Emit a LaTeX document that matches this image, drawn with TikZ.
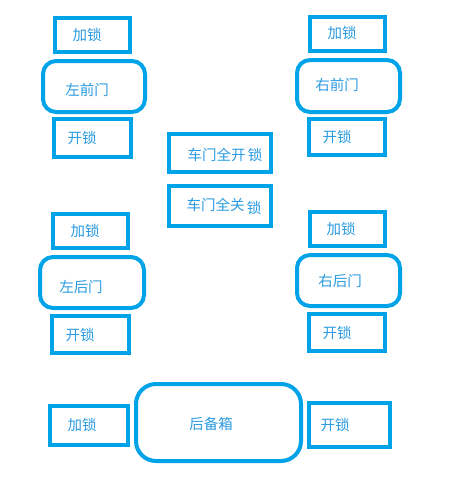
\documentclass[tikz,border=0pt]{standalone}
\usepackage{fontspec}
\newfontfamily\cjk{Noto Sans CJK SC}
\definecolor{bl}{HTML}{00A2E8}
\definecolor{tx}{HTML}{2A9BE0}
\begin{document}
\begin{tikzpicture}[x=1pt,y=-1pt,
  sq/.style={draw=bl,line width=4pt,inner sep=0pt,outer sep=0pt},
  rd/.style={draw=bl,line width=4pt,inner sep=0pt,outer sep=0pt,rounded corners=13pt},
  txt/.style={text=tx,font=\cjk\fontsize{14.5}{16}\selectfont,inner sep=0pt}]
\useasboundingbox[fill=white] (0,0) rectangle (455,493);
% left front
\node[sq,minimum width=75pt,minimum height=34pt] (l1lock) at (92.5,35) {};
\node[txt] (l1lockt) at (87,35) {加锁};
\node[rd,minimum width=102pt,minimum height=51pt] (l1door) at (94,86.5) {};
\node[txt] (l1doort) at (87,90) {左前门};
\node[sq,minimum width=77pt,minimum height=38pt] (l1un) at (92.5,138) {};
\node[txt] (l1unt) at (82,138) {开锁};
% middle
\node[sq,minimum width=102pt,minimum height=38pt] (m1) at (220,153) {};
\node[txt] (m1t) at (225,155) {车门全开\,锁};
\node[sq,minimum width=102pt,minimum height=40pt] (m2) at (220,206) {};
\node[txt] (m2t) at (224,206) {车门全关\,\raisebox{-3pt}{锁}};
% right front
\node[sq,minimum width=75pt,minimum height=34pt] (r1lock) at (347.5,34) {};
\node[txt] (r1lockt) at (342,33) {加锁};
\node[rd,minimum width=103pt,minimum height=52pt] (r1door) at (348.5,86) {};
\node[txt] (r1doort) at (337,85) {右前门};
\node[sq,minimum width=76pt,minimum height=36pt] (r1un) at (347,137) {};
\node[txt] (r1unt) at (337,137) {开锁};
% left rear
\node[sq,minimum width=75pt,minimum height=34pt] (l2lock) at (90.5,231) {};
\node[txt] (l2lockt) at (85,231) {加锁};
\node[rd,minimum width=104pt,minimum height=51pt] (l2door) at (92,282.5) {};
\node[txt] (l2doort) at (81,287) {左后门};
\node[sq,minimum width=77pt,minimum height=37pt] (l2un) at (90.5,334.5) {};
\node[txt] (l2unt) at (80,335) {开锁};
% right rear
\node[sq,minimum width=75pt,minimum height=34pt] (r2lock) at (347.5,229) {};
\node[txt] (r2lockt) at (341,229) {加锁};
\node[rd,minimum width=103pt,minimum height=51pt] (r2door) at (348.5,280.5) {};
\node[txt] (r2doort) at (340,281) {右后门};
\node[sq,minimum width=76pt,minimum height=37pt] (r2un) at (347,332.5) {};
\node[txt] (r2unt) at (337,333) {开锁};
% trunk
\node[sq,minimum width=78pt,minimum height=39pt] (block) at (89,425.5) {};
\node[txt] (blockt) at (82,425) {加锁};
\node[rd,rounded corners=20pt,minimum width=165pt,minimum height=77pt] (trunk) at (218.5,422.5) {};
\node[txt] (trunkt) at (211,424) {后备箱};
\node[sq,minimum width=81pt,minimum height=44pt] (bun) at (349.5,425) {};
\node[txt] (bunt) at (335,425) {开锁};
\end{tikzpicture}
\end{document}
